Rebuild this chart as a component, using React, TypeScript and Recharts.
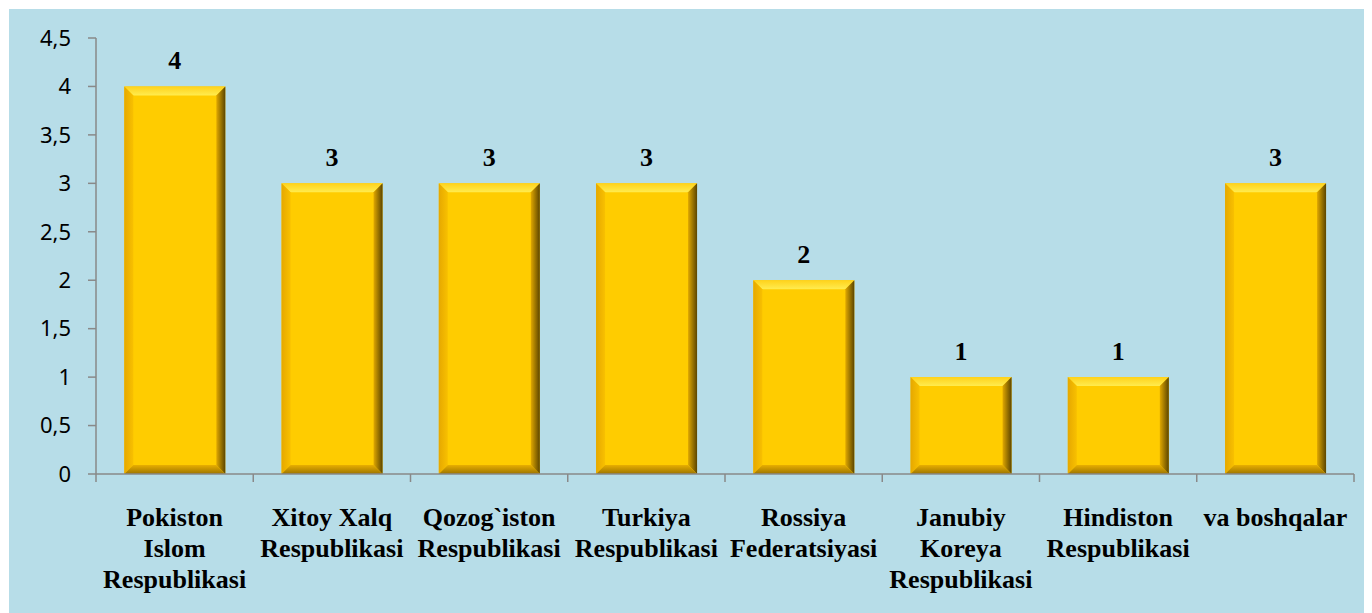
import { BarChart, Bar, XAxis, YAxis, LabelList } from 'recharts';

const categories = [
  'Pokiston\nIslom\nRespublikasi',
  'Xitoy Xalq\nRespublikasi',
  'Qozog`iston\nRespublikasi',
  'Turkiya\nRespublikasi',
  'Rossiya\nFederatsiyasi',
  'Janubiy\nKoreya\nRespublikasi',
  'Hindiston\nRespublikasi',
  'va boshqalar',
];
const counts = [4, 3, 3, 3, 2, 1, 1, 3];
const yTicks = [0, 0.5, 1, 1.5, 2, 2.5, 3, 3.5, 4, 4.5];

const data = categories.map((name, i) => ({ name, value: counts[i] }));

const AXIS = '#898989';
const SERIF = 'Liberation Serif, Tinos, Times New Roman, Times, DejaVu Serif, serif';

function BevelBar(props: any) {
  const { x, y, width: w, height: h } = props;
  if (!h || h <= 0) return null;
  const b = Math.min(9, w / 4, h / 4);
  return (
    <g>
      <rect x={x} y={y} width={w} height={h} fill="#ffcc00" />
      <polygon
        points={`${x},${y} ${x + w},${y} ${x + w - b},${y + b} ${x + b},${y + b}`}
        fill="url(#bevTop)"
      />
      <polygon
        points={`${x},${y} ${x + b},${y + b} ${x + b},${y + h - b} ${x},${y + h}`}
        fill="url(#bevLeft)"
      />
      <polygon
        points={`${x + w},${y} ${x + w},${y + h} ${x + w - b},${y + h - b} ${x + w - b},${y + b}`}
        fill="url(#bevRight)"
      />
      <polygon
        points={`${x},${y + h} ${x + w},${y + h} ${x + w - b},${y + h - b} ${x + b},${y + h - b}`}
        fill="url(#bevBottom)"
      />
    </g>
  );
}

function CategoryTick(props: any) {
  const { x, y, payload, index, visibleTicksCount } = props;
  const half = payload.offset ?? 0;
  const lines = String(payload.value).split('\n');
  const last = index === visibleTicksCount - 1;
  return (
    <g>
      <line x1={x - half} x2={x - half} y1={y - 8} y2={y} stroke={AXIS} strokeWidth={1.5} />
      {last && <line x1={x + half} x2={x + half} y1={y - 8} y2={y} stroke={AXIS} strokeWidth={1.5} />}
      <text
        x={x}
        y={y + 44}
        textAnchor="middle"
        style={{ fontFamily: SERIF, fontWeight: 700, fontSize: 26 }}
        fill="#000"
      >
        {lines.map((l, i) => (
          <tspan key={i} x={x} dy={i === 0 ? 0 : 31}>
            {l}
          </tspan>
        ))}
      </text>
    </g>
  );
}

export default function App() {
  return (
    <div style={{ marginLeft: 1, marginTop: 1, width: 1363, height: 604, background: '#b7dde8' }}>
      <BarChart
        width={1363}
        height={604}
        data={data}
        margin={{ top: 29, right: 18, left: 0, bottom: 0 }}
        barCategoryGap="18%"
      >
        <defs>
          <linearGradient id="bevTop" x1="0" y1="0" x2="0" y2="1">
            <stop offset="0%" stopColor="#ffd21a" />
            <stop offset="100%" stopColor="#ffec50" />
          </linearGradient>
          <linearGradient id="bevLeft" x1="0" y1="0" x2="1" y2="0">
            <stop offset="0%" stopColor="#e6a800" />
            <stop offset="100%" stopColor="#f8c000" />
          </linearGradient>
          <linearGradient id="bevRight" x1="0" y1="0" x2="1" y2="0">
            <stop offset="0%" stopColor="#e0a800" />
            <stop offset="100%" stopColor="#5c4500" />
          </linearGradient>
          <linearGradient id="bevBottom" x1="0" y1="0" x2="0" y2="1">
            <stop offset="0%" stopColor="#e8ae00" />
            <stop offset="100%" stopColor="#9c7400" />
          </linearGradient>
        </defs>
        <XAxis
          dataKey="name"
          interval={0}
          height={139}
          tickLine={false}
          tickSize={8}
          tickMargin={0}
          axisLine={{ stroke: AXIS, strokeWidth: 1.5 }}
          tick={<CategoryTick />}
        />
        <YAxis
          domain={[0, 4.5]}
          ticks={yTicks}
          width={87}
          tickSize={8}
          tickMargin={17}
          axisLine={{ stroke: AXIS, strokeWidth: 1.5 }}
          tickLine={{ stroke: AXIS, strokeWidth: 1.5 }}
          tickFormatter={(v) => String(v).replace('.', ',')}
          tick={{ fill: '#000', fontSize: 22, fontFamily: 'Noto Sans, sans-serif' }}
        />
        <Bar dataKey="value" shape={<BevelBar />} isAnimationActive={false}>
          <LabelList
            dataKey="value"
            position="top"
            offset={17}
            style={{ fontFamily: SERIF, fontWeight: 700, fontSize: 26, fill: '#000' }}
          />
        </Bar>
      </BarChart>
    </div>
  );
}
